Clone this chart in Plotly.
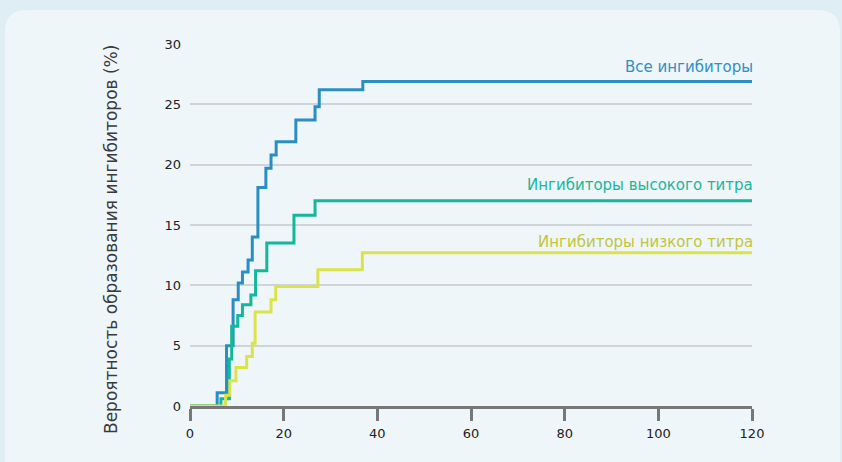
import plotly.graph_objects as go

# ---- data (months vs cumulative probability %) ----
all_x = [0, 5.8, 7.8, 9.2, 10.3, 11.2, 12.4, 13.3, 14.5, 16.2, 17.3, 18.4, 22.6, 26.7, 27.6, 36.9, 120]
all_y = [0, 1.1, 5.0, 8.8, 10.2, 11.1, 12.1, 14.0, 18.1, 19.7, 20.8, 21.9, 23.7, 24.8, 26.2, 26.9, 26.9]

high_x = [0, 6.6, 8.4, 8.9, 10.2, 11.2, 13.0, 14.0, 16.4, 22.2, 26.7, 120]
high_y = [0, 0.6, 3.9, 6.6, 7.5, 8.4, 9.2, 11.2, 13.5, 15.8, 17.0, 17.0]

low_x = [0, 7.6, 8.5, 9.8, 12.1, 13.3, 13.9, 17.3, 18.3, 27.3, 36.8, 120]
low_y = [0, 0.9, 2.1, 3.2, 4.1, 5.2, 7.8, 8.8, 9.9, 11.3, 12.7, 12.7]

series_names = ["Все ингибиторы", "Ингибиторы высокого титра", "Ингибиторы низкого титра"]
y_title = "Вероятность образования ингибиторов (%)"
x_ticks = [0, 20, 40, 60, 80, 100, 120]
y_ticks = [0, 5, 10, 15, 20, 25, 30]

line_colors = ["#2b8ec3", "#13b79b", "#dce34a"]
text_colors = ["#2f8fc4", "#1ab59b", "#c3c43a"]
FONT = "DejaVu Sans"
OUTER_BG = "#dfedf5"

W, H = 842, 462
L, R, T, B = 190, 90, 44, 56
pw, ph = W - L - R, H - T - B

def px(p):
    return (p - L) / pw

def py(q):
    return (H - B - q) / ph

fig = go.Figure()
for xs, ys, c in zip([all_x, high_x, low_x], [all_y, high_y, low_y], line_colors):
    fig.add_trace(go.Scatter(x=xs, y=ys, mode="lines", line=dict(color=c, width=3, shape="hv"),
                             hoverinfo="skip", showlegend=False))

# card background with rounded corners
cl, ct, cr, cb, rad = 5, 10, 840, 480, 22
path = (f"M {px(cl+rad)},{py(ct)} L {px(cr-rad)},{py(ct)} Q {px(cr)},{py(ct)} {px(cr)},{py(ct+rad)} "
        f"L {px(cr)},{py(cb-rad)} Q {px(cr)},{py(cb)} {px(cr-rad)},{py(cb)} "
        f"L {px(cl+rad)},{py(cb)} Q {px(cl)},{py(cb)} {px(cl)},{py(cb-rad)} "
        f"L {px(cl)},{py(ct+rad)} Q {px(cl)},{py(ct)} {px(cl+rad)},{py(ct)} Z")
fig.add_shape(type="path", path=path, xref="paper", yref="paper", fillcolor="#eef6fa",
              line=dict(width=0), layer="below")

# series labels
label_y = [67.5, 185, 241.5]
for name, c, yy in zip(series_names, text_colors, label_y):
    fig.add_annotation(text=name, xref="paper", yref="paper", x=px(755), y=py(yy),
                       xanchor="right", yanchor="middle", showarrow=False,
                       font=dict(family=FONT, size=15, color=c))

# y axis title
fig.add_annotation(text=y_title, xref="paper", yref="paper", x=px(111), y=py(240),
                   xanchor="center", yanchor="middle", textangle=-90, showarrow=False,
                   font=dict(family=FONT, size=17, color="#3a3a3a"))

fig.update_layout(
    width=W, height=H,
    margin=dict(l=L, r=R, t=T, b=B),
    paper_bgcolor=OUTER_BG,
    plot_bgcolor="rgba(0,0,0,0)",
    font=dict(family=FONT, size=13, color="#222222"),
    xaxis=dict(range=[0, 120], tickvals=x_ticks, showgrid=False, zeroline=False,
               showline=True, linecolor="#777777", linewidth=2.5,
               ticks="outside", ticklen=12, tickwidth=2.5, tickcolor="#777777",
               ticklabelstandoff=2, tickfont=dict(family=FONT, size=13, color="#222222")),
    yaxis=dict(range=[0, 30], tickvals=y_ticks, showgrid=True, gridcolor="#cfd4d8", gridwidth=2,
               zeroline=False, showline=False, ticks="", ticklabelstandoff=8,
               tickfont=dict(family=FONT, size=13, color="#222222")),
)

fig.write_html(
    "out.html",
    config={"displayModeBar": False},
    post_script=("document.body.style.margin='0';document.body.style.padding='0';"
                 "document.body.style.background='" + OUTER_BG + "';"
                 "document.body.style.overflow='hidden';"),
)
